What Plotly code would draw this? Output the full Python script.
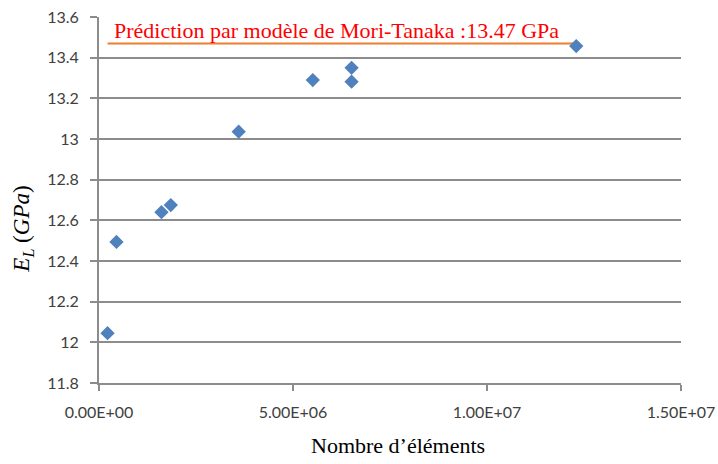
import plotly.graph_objects as go

# Mesh convergence: number of elements vs. longitudinal modulus
n_elements = [2.2e5, 4.5e5, 1.61e6, 1.85e6, 3.6e6, 5.51e6, 6.51e6, 6.51e6, 1.23e7]
e_l_gpa = [12.045, 12.494, 12.64, 12.675, 13.036, 13.29, 13.35, 13.282, 13.457]

# Mori-Tanaka prediction
mt_value = 13.47
mt_x = [2.2e5, 1.23e7]
mt_label = "Prédiction par modèle de Mori-Tanaka :13.47 GPa"

x_title = "Nombre d’éléments"
y_title = "<i>E</i><sub><i>L</i></sub> (<i>GPa</i>)"

x_ticks = [0, 5e6, 1e7, 1.5e7]
x_ticklabels = ["0.00E+00", "5.00E+06", "1.00E+07", "1.50E+07"]
y_ticks = [11.8, 12, 12.2, 12.4, 12.6, 12.8, 13, 13.2, 13.4, 13.6]
y_ticklabels = ["11.8", "12", "12.2", "12.4", "12.6", "12.8", "13", "13.2", "13.4", "13.6"]

GRID = "#8c8c8c"
TICKFONT = dict(family="Lato", size=16, color="#404040")
SERIF = "Liberation Serif"

fig = go.Figure()

fig.add_trace(go.Scatter(
    x=mt_x, y=[mt_value, mt_value], mode="lines",
    line=dict(color="#ED7D31", width=2), showlegend=False, hoverinfo="skip",
))

fig.add_trace(go.Scatter(
    x=n_elements, y=e_l_gpa, mode="markers",
    marker=dict(symbol="diamond", size=11, color="#4F81BD",
                line=dict(width=0)),
    showlegend=False,
))

fig.add_annotation(
    x=3.35e5, y=13.536, xref="x", yref="y", text=mt_label,
    showarrow=False, xanchor="left", yanchor="middle",
    font=dict(family=SERIF, size=22, color="#FF0000"),
)

# axis titles placed as annotations so they can sit off-centre
fig.add_annotation(
    x=0.514, y=-0.172, xref="paper", yref="paper", text=x_title,
    showarrow=False, xanchor="center", yanchor="middle",
    font=dict(family=SERIF, size=22, color="#000000"),
)
fig.add_annotation(
    x=-0.131, y=0.421, xref="paper", yref="paper", text=y_title,
    showarrow=False, xanchor="center", yanchor="middle", textangle=-90,
    font=dict(family=SERIF, size=23, color="#000000"),
)

fig.update_xaxes(
    range=[0, 1.5e7], tickvals=x_ticks, ticktext=x_ticklabels,
    showgrid=False, zeroline=False, automargin=False,
    showline=True, linecolor=GRID, linewidth=2,
    ticks="outside", ticklen=6, tickwidth=2, tickcolor=GRID,
    tickfont=TICKFONT, ticklabelstandoff=8,
)
fig.update_yaxes(
    range=[11.8, 13.6], tickvals=y_ticks, ticktext=y_ticklabels,
    showgrid=True, gridcolor=GRID, gridwidth=2, zeroline=False, automargin=False,
    showline=True, linecolor=GRID, linewidth=2,
    ticks="outside", ticklen=7, tickwidth=2, tickcolor=GRID,
    tickfont=TICKFONT, ticklabelstandoff=8,
)

fig.update_layout(
    width=718, height=464,
    margin=dict(l=99, r=37, t=17, b=81),
    plot_bgcolor="white", paper_bgcolor="white",
)

fig.write_html("out.html")
